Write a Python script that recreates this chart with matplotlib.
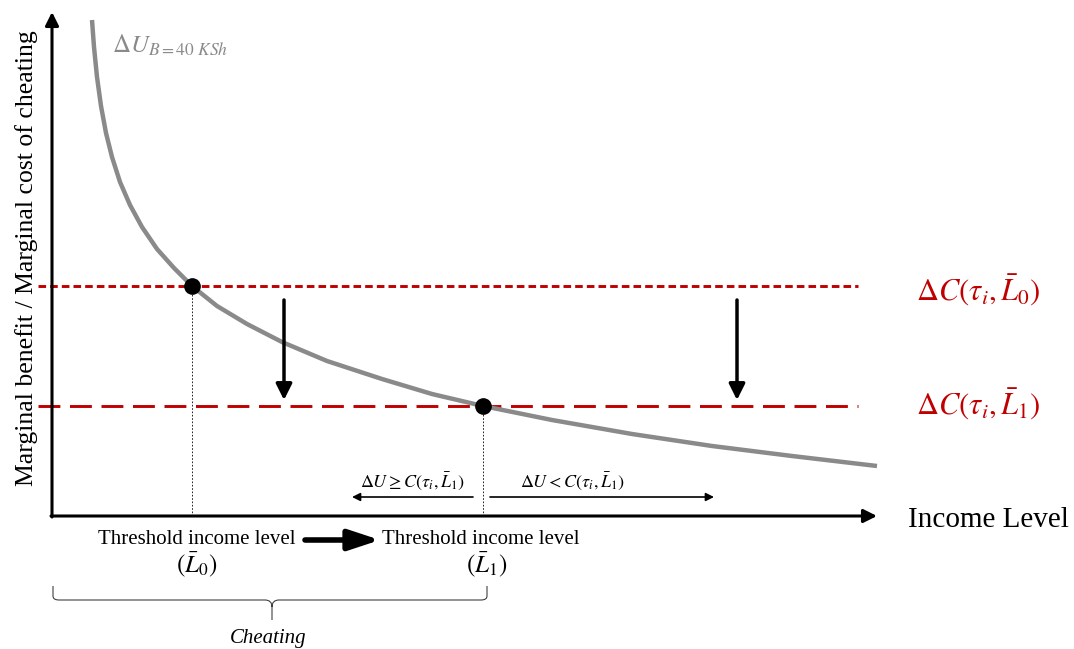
import matplotlib.pyplot as plt
from matplotlib.path import Path
from matplotlib.patches import PathPatch

plt.rcParams['font.family'] = ['Liberation Serif', 'DejaVu Serif']
plt.rcParams['mathtext.fontset'] = 'stix'

# benefit curve (income, marginal benefit)
curve_x = [40, 42, 45, 49, 54, 60, 68, 78, 90, 105, 122, 140, 165, 195, 230, 275,
           330, 380, 431, 500, 580, 660, 740, 825]
curve_y = [496, 469, 439, 410, 383, 359, 334, 311, 289, 267, 248, 230, 210, 192, 174, 155,
           137, 122, 110, 96, 82, 70, 60, 50]

# cost levels before / after, and the threshold incomes
cost_levels = [230, 110]
thresholds = [140, 431]
line_span = [-14, 806]

red = '#c00000'
grey = '#8a8a8a'

fig = plt.figure(figsize=(10.74, 6.49), dpi=100)
ax = fig.add_axes([0, 0, 1, 1])
ax.set_xlim(-52, 1022)
ax.set_ylim(-133, 516)
ax.axis('off')

# axes with arrow heads
arrow_kw = dict(arrowstyle='-|>', lw=2.2, color='black', mutation_scale=20,
                shrinkA=0, shrinkB=0)
ax.annotate('', xy=(0, 504), xytext=(0, -1), arrowprops=arrow_kw)
ax.annotate('', xy=(825, 0), xytext=(-1, 0), arrowprops=arrow_kw)

# cost lines
ax.plot(line_span, [cost_levels[0]] * 2, color=red, lw=2.1, dashes=(2.6, 1.4))
ax.plot(line_span, [cost_levels[1]] * 2, color=red, lw=2.1, dashes=(7.5, 3.3))

# benefit curve
ax.plot(curve_x, curve_y, color=grey, lw=3.2, solid_capstyle='butt', solid_joinstyle='round')

# intersections and thin guides
for tx, cy in zip(thresholds, cost_levels):
    ax.plot([tx, tx], [0, cy], color='black', lw=0.6, dashes=(2, 2))
    ax.plot(tx, cy, 'o', color='black', ms=11, zorder=5)

# downward shift arrows
for ax_x in [232, 685]:
    ax.annotate('', xy=(ax_x, 116), xytext=(ax_x, 216),
                arrowprops=dict(arrowstyle='-|>', lw=2.5, color='black',
                                mutation_scale=24, shrinkA=0, shrinkB=0))

# labels
ax.text(60, 471, r'$\Delta U_{B=40\ KSh}$', color=grey, fontsize=18, va='center')
ax.text(864, 226, r'$\Delta C(\tau_i,\bar{L}_0)$', color=red, fontsize=22, va='center')
ax.text(864, 112, r'$\Delta C(\tau_i,\bar{L}_1)$', color=red, fontsize=22, va='center')
ax.text(856, -4, 'Income Level', fontsize=21, va='center')
ax.text(-25, 258, 'Marginal benefit / Marginal cost of cheating', fontsize=18.5,
        rotation=90, ha='center', va='center')

ax.text(145, -23, 'Threshold income level', fontsize=15, ha='center', va='center')
ax.text(145, -49, r'$(\bar{L}_0)$', fontsize=18, ha='center', va='center')
ax.text(429, -23, 'Threshold income level', fontsize=15, ha='center', va='center')
ax.text(435, -49, r'$(\bar{L}_1)$', fontsize=18, ha='center', va='center')
ax.annotate('', xy=(328, -24), xytext=(253, -24),
            arrowprops=dict(arrowstyle='-|>,head_length=0.85,head_width=0.28', lw=4,
                            color='black', mutation_scale=22, shrinkA=0, shrinkB=0))

# small direction arrows
small_kw = dict(arrowstyle='-|>', lw=1.2, color='black', mutation_scale=12,
                shrinkA=0, shrinkB=0)
ax.annotate('', xy=(300, 19), xytext=(421, 19), arrowprops=small_kw)
ax.annotate('', xy=(662, 19), xytext=(438, 19), arrowprops=small_kw)
ax.text(360, 35, r'$\Delta U \geq C(\tau_i,\bar{L}_1)$', fontsize=13, ha='center', va='center')
ax.text(520, 35, r'$\Delta U < C(\tau_i,\bar{L}_1)$', fontsize=13, ha='center', va='center')

# brace under the cheating range
verts = [(1, -70), (1, -80), (1, -84), (7, -84), (213, -84), (220, -84), (220, -91),
         (220, -104), (220, -91), (220, -84), (227, -84), (429, -84), (435, -84),
         (435, -80), (435, -70)]
codes = [Path.MOVETO, Path.LINETO, Path.CURVE3, Path.CURVE3, Path.LINETO, Path.CURVE3,
         Path.CURVE3, Path.LINETO, Path.MOVETO, Path.CURVE3, Path.CURVE3, Path.LINETO,
         Path.CURVE3, Path.CURVE3, Path.LINETO]
ax.add_patch(PathPatch(Path(verts, codes), fill=False, lw=0.8, color='#404040'))
ax.text(216, -122, 'Cheating', fontsize=15, style='italic', ha='center', va='center')

fig.savefig('out.png', dpi=100)
